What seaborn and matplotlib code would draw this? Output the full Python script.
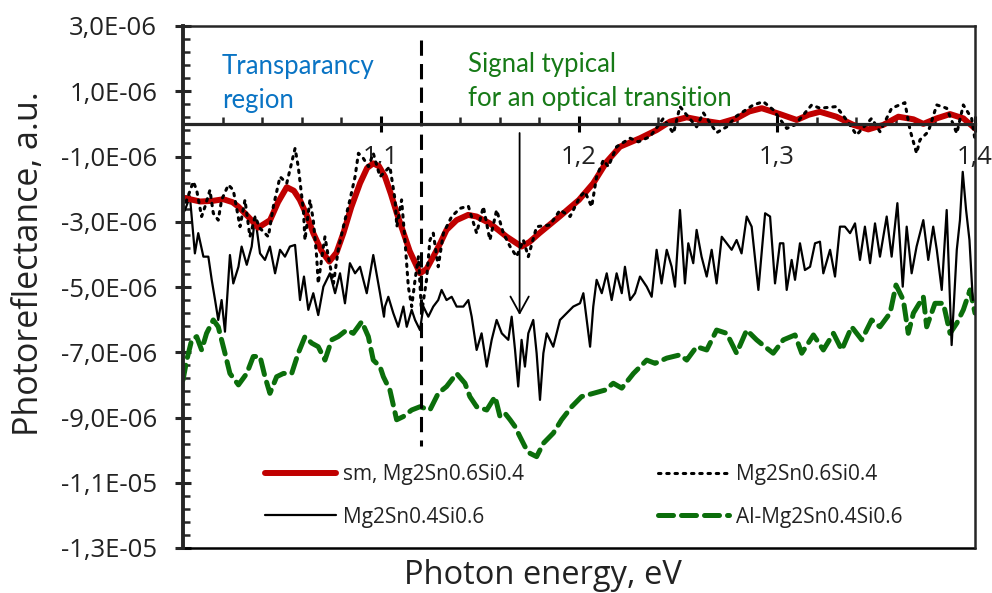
import numpy as np
import matplotlib
matplotlib.use("Agg")
import matplotlib.pyplot as plt
import seaborn as sns
from matplotlib.ticker import FixedLocator, FuncFormatter

sns.set_style("white")
plt.rcParams['font.family'] = ['Open Sans', 'DejaVu Sans']

# ---------------- data (photon energy in eV, signal in units of 1E-06) ----------------
sm_x = [1.000, 1.0086, 1.0150, 1.0204, 1.0250, 1.0280, 1.0330, 1.0380, 1.0440, 1.0480,
        1.0524, 1.0560, 1.0590, 1.0625, 1.0658, 1.0700, 1.0739, 1.0775, 1.0810, 1.0850,
        1.0894, 1.0930, 1.0961, 1.0990, 1.1020, 1.1050, 1.1080, 1.1145, 1.1197, 1.1230,
        1.1264, 1.1300, 1.1331, 1.1382, 1.1440, 1.1483, 1.1550, 1.1635, 1.1710, 1.1750,
        1.1800, 1.1900, 1.2000, 1.2072, 1.2140, 1.2207, 1.2308, 1.2392, 1.2460, 1.2544,
        1.2628, 1.2712, 1.2796, 1.2860, 1.2923, 1.3015, 1.3100, 1.3160, 1.3217, 1.3300,
        1.3385, 1.3461, 1.3537, 1.3613, 1.3689, 1.3739, 1.3807, 1.3874, 1.3941, 1.4000]
sm_y = [-2.26, -2.38, -2.36, -2.31, -2.40, -2.54, -2.85, -3.18, -2.95, -2.40,
        -1.94, -2.05, -2.33, -2.80, -3.35, -3.90, -4.22, -3.95, -3.35, -2.55,
        -1.82, -1.35, -1.21, -1.30, -1.62, -2.15, -2.74, -3.90, -4.58, -4.45,
        -4.07, -3.65, -3.25, -2.95, -2.79, -2.84, -3.05, -3.46, -3.76, -3.62,
        -3.35, -2.85, -2.33, -1.82, -1.16, -0.70, -0.44, -0.19, 0.07, 0.20,
        0.10, 0.02, 0.17, 0.38, 0.48, 0.30, 0.12, 0.28, 0.37, 0.22,
        -0.03, -0.17, -0.03, 0.22, 0.14, 0.00, 0.17, 0.30, 0.17, -0.14]

raw64_x = [1.0000, 1.0019, 1.0052, 1.0069, 1.0094, 1.0111, 1.0136, 1.0153, 1.0178, 1.0195,
           1.0229, 1.0254, 1.0288, 1.0313, 1.0338, 1.0364, 1.0389, 1.0431, 1.0456, 1.0490,
           1.0524, 1.0566, 1.0582, 1.0608, 1.0616, 1.0641, 1.0658, 1.0675, 1.0683, 1.0709,
           1.0717, 1.0734, 1.0760, 1.0784, 1.0810, 1.0843, 1.0869, 1.0886, 1.0910, 1.0937,
           1.0961, 1.0995, 1.1045, 1.1071, 1.1080, 1.1104, 1.1121, 1.1138, 1.1155, 1.1172,
           1.1189, 1.1205, 1.1230, 1.1247, 1.1264, 1.1289, 1.1315, 1.1357, 1.1399, 1.1441,
           1.1483, 1.1517, 1.1550, 1.1584, 1.1618, 1.1652, 1.1685, 1.1719, 1.1744, 1.1786,
           1.1854, 1.1904, 1.1955, 1.2005, 1.2030, 1.2064, 1.2089, 1.2123, 1.2148, 1.2190,
           1.2258, 1.2300, 1.2359, 1.2409, 1.2426, 1.2477, 1.2510, 1.2544, 1.2594, 1.2628,
           1.2695, 1.2746, 1.2796, 1.2880, 1.2931, 1.2981, 1.3049, 1.3091, 1.3175, 1.3217,
           1.3300, 1.3351, 1.3402, 1.3478, 1.3520, 1.3579, 1.3646, 1.3672, 1.3705, 1.3722,
           1.3764, 1.3807, 1.3857, 1.3908, 1.3941, 1.3983, 1.4000]
raw64_y = [-2.64, -2.33, -1.77, -2.03, -2.84, -2.54, -2.03, -2.74, -2.95, -2.33,
           -1.87, -2.03, -3.15, -2.33, -3.46, -2.84, -3.20, -3.46, -2.54, -1.62,
           -1.82, -0.75, -1.31, -2.64, -3.56, -2.33, -2.95, -4.07, -4.89, -3.76,
           -3.46, -4.07, -4.89, -3.86, -3.15, -2.33, -1.62, -0.90, -1.05, -1.31,
           -0.90, -1.62, -1.31, -2.33, -3.15, -2.33, -3.56, -4.99, -5.60, -4.78,
           -4.07, -5.80, -4.78, -3.56, -3.35, -4.38, -3.35, -2.84, -2.59, -2.52,
           -3.35, -2.54, -3.56, -2.64, -3.35, -3.76, -4.07, -3.56, -4.07, -3.15,
           -3.10, -2.64, -2.84, -2.23, -2.08, -2.54, -1.62, -1.11, -1.31, -0.70,
           -0.44, -0.55, -0.39, 0.02, 0.17, -0.29, 0.53, 0.27, -0.09, 0.34,
           -0.27, -0.09, 0.24, 0.58, 0.68, 0.43, -0.14, -0.03, 0.58, 0.48,
           0.53, 0.12, -0.34, 0.17, -0.24, 0.48, 0.65, -0.19, -0.90, -0.49,
           -0.24, 0.58, 0.48, -0.29, 0.58, 0.17, -0.49]

raw46_x = [1.0000, 1.0010, 1.0035, 1.0060, 1.0077, 1.0103, 1.0128, 1.0145, 1.0162, 1.0178,
           1.0195, 1.0212, 1.0237, 1.0254, 1.0280, 1.0296, 1.0322, 1.0347, 1.0364, 1.0389,
           1.0414, 1.0439, 1.0465, 1.0490, 1.0515, 1.0540, 1.0566, 1.0591, 1.0611, 1.0633,
           1.0658, 1.0683, 1.0709, 1.0742, 1.0768, 1.0793, 1.0818, 1.0843, 1.0869, 1.0894,
           1.0928, 1.0961, 1.0995, 1.1015, 1.1020, 1.1037, 1.1062, 1.1087, 1.1113, 1.1130,
           1.1155, 1.1172, 1.1197, 1.1214, 1.1239, 1.1264, 1.1289, 1.1306, 1.1331, 1.1357,
           1.1382, 1.1416, 1.1441, 1.1458, 1.1483, 1.1508, 1.1534, 1.1559, 1.1584, 1.1610,
           1.1643, 1.1660, 1.1677, 1.1693, 1.1710, 1.1727, 1.1744, 1.1769, 1.1786, 1.1803,
           1.1820, 1.1837, 1.1870, 1.1904, 1.1938, 1.1971, 1.2005, 1.2022, 1.2056, 1.2072,
           1.2089, 1.2115, 1.2140, 1.2165, 1.2190, 1.2216, 1.2232, 1.2258, 1.2283, 1.2308,
           1.2342, 1.2367, 1.2392, 1.2417, 1.2443, 1.2468, 1.2485, 1.2510, 1.2535, 1.2552,
           1.2577, 1.2594, 1.2619, 1.2645, 1.2670, 1.2695, 1.2721, 1.2746, 1.2771, 1.2796,
           1.2821, 1.2847, 1.2872, 1.2906, 1.2940, 1.2965, 1.2990, 1.3015, 1.3032, 1.3049,
           1.3074, 1.3091, 1.3116, 1.3141, 1.3167, 1.3192, 1.3217, 1.3234, 1.3268, 1.3293,
           1.3318, 1.3343, 1.3369, 1.3394, 1.3419, 1.3444, 1.3470, 1.3495, 1.3520, 1.3554,
           1.3579, 1.3608, 1.3635, 1.3655, 1.3680, 1.3705, 1.3739, 1.3764, 1.3789, 1.3807,
           1.3832, 1.3857, 1.3882, 1.3908, 1.3924, 1.3938, 1.3955, 1.3972, 1.3989]
raw46_y = [-2.74, -2.64, -2.23, -3.97, -3.35, -4.07, -4.07, -4.78, -5.40, -6.01,
           -5.40, -6.37, -4.02, -4.89, -4.38, -3.76, -4.32, -3.76, -2.84, -3.97,
           -4.17, -3.76, -4.58, -3.86, -4.07, -3.76, -3.71, -5.40, -4.68, -5.70,
           -5.19, -5.86, -4.99, -4.58, -5.19, -4.58, -5.50, -4.27, -4.58, -4.38,
           -5.19, -4.02, -5.19, -5.91, -5.60, -5.30, -5.80, -6.22, -5.60, -6.22,
           -5.70, -6.01, -6.32, -5.60, -5.91, -5.60, -5.40, -5.09, -5.40, -5.30,
           -5.60, -5.60, -5.40, -5.91, -6.93, -6.42, -7.44, -6.62, -6.01, -6.42,
           -6.62, -5.91, -6.93, -8.05, -6.62, -7.44, -6.42, -6.01, -7.03, -8.46,
           -7.03, -6.42, -6.83, -6.01, -5.80, -5.60, -5.50, -5.19, -6.83, -5.60,
           -4.78, -5.19, -4.58, -5.40, -4.58, -5.19, -4.38, -5.40, -5.19, -4.68,
           -4.99, -5.30, -3.86, -4.89, -3.86, -4.38, -4.99, -2.64, -4.89, -3.66,
           -4.27, -3.25, -4.07, -4.68, -3.86, -4.89, -3.46, -3.66, -3.86, -3.56,
           -3.97, -2.84, -3.15, -5.09, -2.74, -2.84, -4.89, -3.66, -3.66, -5.09,
           -4.17, -4.78, -3.66, -4.48, -4.38, -3.66, -3.61, -4.58, -3.86, -4.68,
           -3.15, -3.15, -3.35, -3.05, -4.17, -3.15, -4.27, -3.05, -4.07, -2.84,
           -4.07, -2.43, -4.99, -3.15, -4.58, -3.76, -2.95, -4.17, -3.15, -3.86,
           -5.09, -2.64, -6.78, -3.86, -2.95, -1.47, -2.64, -3.56, -5.40]

al46_x = [1.0000, 1.0019, 1.0044, 1.0069, 1.0094, 1.0119, 1.0153, 1.0178, 1.0212, 1.0237,
          1.0280, 1.0322, 1.0355, 1.0389, 1.0414, 1.0439, 1.0473, 1.0507, 1.0549, 1.0582,
          1.0616, 1.0650, 1.0683, 1.0717, 1.0751, 1.0784, 1.0826, 1.0860, 1.0903, 1.0936,
          1.0961, 1.0995, 1.1012, 1.1045, 1.1079, 1.1113, 1.1155, 1.1197, 1.1247, 1.1289,
          1.1331, 1.1382, 1.1424, 1.1449, 1.1483, 1.1534, 1.1576, 1.1601, 1.1626, 1.1652,
          1.1677, 1.1702, 1.1727, 1.1753, 1.1786, 1.1820, 1.1870, 1.1912, 1.1963, 1.2013,
          1.2072, 1.2131, 1.2173, 1.2216, 1.2275, 1.2342, 1.2384, 1.2443, 1.2510, 1.2544,
          1.2594, 1.2645, 1.2695, 1.2746, 1.2796, 1.2847, 1.2897, 1.2939, 1.2981, 1.3032,
          1.3091, 1.3125, 1.3184, 1.3234, 1.3285, 1.3327, 1.3377, 1.3428, 1.3478, 1.3520,
          1.3571, 1.3601, 1.3638, 1.3663, 1.3689, 1.3739, 1.3756, 1.3798, 1.3840, 1.3874,
          1.3908, 1.3941, 1.3975, 1.4000]
al46_y = [-7.85, -7.24, -6.62, -6.52, -6.93, -6.42, -6.01, -6.22, -7.03, -7.65,
          -8.00, -7.65, -7.13, -7.13, -7.75, -8.26, -7.75, -7.65, -7.65, -7.03,
          -6.52, -6.72, -6.83, -7.24, -6.62, -6.52, -6.32, -6.42, -6.06, -6.52,
          -7.24, -7.44, -7.75, -8.16, -9.07, -8.97, -8.77, -8.67, -8.77, -8.26,
          -8.05, -7.65, -7.95, -8.36, -8.67, -8.77, -8.36, -8.97, -8.87, -9.07,
          -9.28, -9.59, -9.89, -10.10, -10.20, -9.79, -9.48, -9.07, -8.67, -8.36,
          -8.26, -8.16, -7.95, -8.10, -7.65, -7.24, -7.34, -7.18, -7.08, -7.24,
          -6.83, -6.93, -6.32, -6.42, -7.03, -6.32, -6.62, -6.83, -7.03, -6.62,
          -6.47, -7.03, -6.47, -6.93, -6.42, -6.93, -6.22, -6.62, -6.01, -6.22,
          -5.80, -4.94, -5.40, -6.42, -5.80, -5.30, -6.22, -5.50, -5.50, -6.42,
          -6.11, -5.70, -5.09, -5.80]

series_labels = ["sm, Mg2Sn0.6Si0.4", "Mg2Sn0.6Si0.4", "Mg2Sn0.4Si0.6", "Al-Mg2Sn0.4Si0.6"]
y_ticks = [3, 1, -1, -3, -5, -7, -9, -11, -13]   # in 1E-06
x_ticks = [1.1, 1.2, 1.3, 1.4]
UNIT = 1e-6

# annotation geometry
VLINE_X, VLINE_Y0, VLINE_Y1 = 1.12, 2.57, -9.87
ARROW_X, ARROW_Y0, ARROW_Y1 = 1.17, -0.28, -5.86

# ---------------- figure ----------------
fig = plt.figure(figsize=(9.92, 5.93), dpi=100)
ax = fig.add_axes([183 / 992, 45 / 593, 792 / 992, 522 / 593])

green = "#0b6e0b"
sns.lineplot(x=al46_x, y=np.array(al46_y) * UNIT, ax=ax, color=green, lw=3.6,
             linestyle=(0, (3.0, 1.6)), dash_capstyle='round', sort=False, estimator=None,
             label=series_labels[3])
h_al = ax.lines[-1]
sns.lineplot(x=raw46_x, y=np.array(raw46_y) * UNIT, ax=ax, color="black", lw=1.6,
             sort=False, estimator=None, label=series_labels[2])
h_46 = ax.lines[-1]
sns.lineplot(x=sm_x, y=np.array(sm_y) * UNIT, ax=ax, color="#C00000", lw=4.3,
             sort=False, estimator=None, label=series_labels[0])
h_sm = ax.lines[-1]
sns.lineplot(x=raw64_x, y=np.array(raw64_y) * UNIT, ax=ax, color="black", lw=2.2,
             linestyle=(0, (0.8, 1.9)), dash_capstyle='round', sort=False, estimator=None,
             label=series_labels[1])
h_64 = ax.lines[-1]

ax.set_xlim(1.0, 1.4)
ax.set_ylim(-13e-6, 3e-6)

# spines
ax.spines['bottom'].set_position(('data', 0))
ax.spines['bottom'].set_linewidth(2.3)
ax.spines['left'].set_linewidth(2.8)
for s in ('top', 'right'):
    ax.spines[s].set_visible(True)
    ax.spines[s].set_linewidth(1.8)
ax.plot([0, 1], [0, 0], transform=ax.transAxes, color='black', lw=1.8, clip_on=False)

# ticks
ax.xaxis.set_ticks_position('bottom')
ax.yaxis.set_ticks_position('left')
ax.xaxis.set_major_locator(FixedLocator(x_ticks))
ax.xaxis.set_minor_locator(FixedLocator(np.arange(1.0, 1.4001, 0.02)))
ax.yaxis.set_major_locator(FixedLocator([v * UNIT for v in y_ticks]))
ax.yaxis.set_minor_locator(FixedLocator(np.linspace(-13e-6, 3e-6, 41)))
ax.xaxis.set_major_formatter(FuncFormatter(lambda v, p: f"{v:.1f}".replace('.', ',')))
ax.yaxis.set_major_formatter(FuncFormatter(lambda v, p: f"{v:.1E}".replace('.', ',')))
ax.tick_params(axis='x', which='major', direction='inout', length=12, width=2.2,
               labelsize=18.5, pad=9, colors='black', labelcolor='#222222')
ax.tick_params(axis='x', which='minor', direction='in', length=5, width=1.8)
ax.tick_params(axis='y', which='major', direction='inout', length=11, width=2.2,
               labelsize=18.5, pad=13, labelcolor='#222222')
ax.tick_params(axis='y', which='minor', direction='in', length=5, width=1.8)

# axis labels
ax.set_xlabel("Photon energy, eV", fontsize=23.5, color='#222222')
ax.xaxis.set_label_coords(0.455, -0.021)
ax.set_ylabel("Photoreflectance, a.u.", fontsize=24.5, color='#222222')
ax.yaxis.set_label_coords(-0.173, 0.545)

# annotations
ax.text(0.049, 0.946, "Transparancy\nregion", transform=ax.transAxes, ha='left', va='top',
        fontsize=18.5, color="#0a74c4", family=['Lato', 'DejaVu Sans'], linespacing=1.45)
ax.text(0.36, 0.95, "Signal typical\nfor an optical transition", transform=ax.transAxes,
        ha='left', va='top', fontsize=18.5, color="#177a17", family=['Lato', 'DejaVu Sans'],
        linespacing=1.45)
ax.plot([VLINE_X, VLINE_X], [VLINE_Y0 * UNIT, VLINE_Y1 * UNIT], color='black', lw=2.2,
        linestyle=(0, (5, 2.7)))
ax.annotate("", xy=(ARROW_X, ARROW_Y1 * UNIT), xytext=(ARROW_X, ARROW_Y0 * UNIT),
            arrowprops=dict(arrowstyle="->,head_length=0.6,head_width=0.33", lw=1.3,
                            color='black', mutation_scale=20, shrinkA=0, shrinkB=0))

# legend
ax.legend(handles=[h_sm, h_46, h_64, h_al], labels=[series_labels[0], series_labels[2],
          series_labels[1], series_labels[3]], ncol=2, loc='center',
          bbox_to_anchor=(0.506, 0.10), frameon=False, fontsize=15, handlelength=3.4,
          handletextpad=0.35, columnspacing=6.4, labelspacing=1.05, labelcolor='#222222')

fig.savefig("out.png", dpi=100)
